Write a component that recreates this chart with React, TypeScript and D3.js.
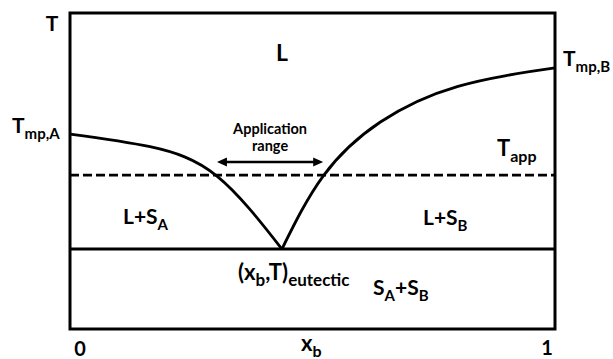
import React from "react";
import * as d3 from "d3";

// ---- data (mole fraction x_b, reduced temperature 0..1) ----
const xDomain = [0, 1];
const tDomain = [0, 1];
const tmpA = 0.617;
const tmpB = 0.826;
const tApp = 0.487;
const tEutectic = 0.253;
const xEutectic = 0.437;
const appRange = [0.303, 0.522];

const leftX = [0, 0.165, 0.303, xEutectic];
const leftT = [tmpA, 0.577, 0.484, tEutectic];
const rightX = [xEutectic, 0.522, 0.64, 0.8, 1];
const rightT = [tEutectic, 0.484, 0.655, 0.768, tmpB];

const tickLabels = ["0", "1"];

const W = 613;
const H = 359;
const FONT = "Lato, 'Open Sans', sans-serif";

function Sub({ x, y, main, sub, size, subSize, anchor = "start", rest, restSub }: any) {
  return (
    <text x={x} y={y} fontFamily={FONT} fontWeight={700} fontSize={size} textAnchor={anchor} fill="#000">
      <tspan>{main}</tspan>
      {sub ? (
        <tspan fontSize={subSize} dy={6}>
          {sub}
        </tspan>
      ) : null}
      {rest ? (
        <tspan dy={sub ? -6 : 0} fontSize={size}>
          {rest}
        </tspan>
      ) : null}
      {restSub ? (
        <tspan fontSize={subSize} dy={6}>
          {restSub}
        </tspan>
      ) : null}
    </text>
  );
}

export default function App() {
  const x = d3.scaleLinear().domain(xDomain).range([70, 555]);
  const y = d3.scaleLinear().domain(tDomain).range([329, 13]);

  const line = d3
    .line<[number, number]>()
    .x((d) => x(d[0]))
    .y((d) => y(d[1]))
    .curve(d3.curveNatural);

  const leftPts = leftX.map((v, i) => [v, leftT[i]] as [number, number]);
  const rightPts = rightX.map((v, i) => [v, rightT[i]] as [number, number]);

  const ax0 = x(appRange[0]);
  const ax1 = x(appRange[1]);
  const ay = 162;

  return (
    <div style={{ position: "absolute", left: 0, top: 0 }}>
      <svg width={W} height={H} style={{ display: "block", background: "#fff" }}>
        {/* frame */}
        <rect
          x={x(0)}
          y={y(1)}
          width={x(1) - x(0)}
          height={y(0) - y(1)}
          fill="none"
          stroke="#000"
          strokeWidth={3}
        />
        {/* eutectic line */}
        <line x1={x(0)} x2={x(1)} y1={y(tEutectic)} y2={y(tEutectic)} stroke="#000" strokeWidth={3} />
        {/* application temperature */}
        <line
          x1={x(0)}
          x2={x(1)}
          y1={y(tApp)}
          y2={y(tApp)}
          stroke="#000"
          strokeWidth={2.6}
          strokeDasharray="9 4"
        />
        {/* liquidus curves */}
        <path d={line(leftPts) || ""} fill="none" stroke="#000" strokeWidth={2.8} />
        <path d={line(rightPts) || ""} fill="none" stroke="#000" strokeWidth={2.8} />

        {/* application range arrow */}
        <line x1={ax0 + 6} x2={ax1 - 6} y1={ay} y2={ay} stroke="#000" strokeWidth={2.5} />
        <path d={`M${ax0},${ay} L${ax0 + 10},${ay - 4.5} L${ax0 + 10},${ay + 4.5} Z`} fill="#000" />
        <path d={`M${ax1},${ay} L${ax1 - 10},${ay - 4.5} L${ax1 - 10},${ay + 4.5} Z`} fill="#000" />
        <text x={(ax0 + ax1) / 2} y={134} textAnchor="middle" fontFamily={FONT} fontWeight={700} fontSize={14.5} fill="#000">
          Application
        </text>
        <text x={(ax0 + ax1) / 2} y={151} textAnchor="middle" fontFamily={FONT} fontWeight={700} fontSize={14.5} fill="#000">
          range
        </text>

        {/* axis labels */}
        <text x={52} y={31} textAnchor="middle" fontFamily={FONT} fontWeight={700} fontSize={21}>
          T
        </text>
        <Sub x={12} y={y(tmpA) - 1} main="T" sub="mp,A" size={21} subSize={15} />
        <Sub x={563} y={y(tmpB) - 2} main="T" sub="mp,B" size={21} subSize={15} />
        <Sub x={497} y={156} main="T" sub="app" size={22} subSize={16} />
        <text x={x(0) + 10} y={356} textAnchor="middle" fontFamily={FONT} fontWeight={700} fontSize={20}>
          {tickLabels[0]}
        </text>
        <text x={x(1) - 8} y={355} textAnchor="middle" fontFamily={FONT} fontWeight={700} fontSize={20}>
          {tickLabels[1]}
        </text>
        <Sub x={301} y={351} main="x" sub="b" size={22} subSize={16} />

        {/* region labels */}
        <text x={282} y={61} textAnchor="middle" fontFamily={FONT} fontWeight={700} fontSize={23}>
          L
        </text>
        <Sub x={123} y={224} main="L+S" sub="A" size={21} subSize={15} />
        <Sub x={423} y={225} main="L+S" sub="B" size={21} subSize={15} />
        <Sub x={373} y={295} main="S" sub="A" rest="+S" restSub="B" size={21} subSize={15} />
        <Sub x={238} y={280} main="(x" sub="b" rest=",T)" restSub="eutectic" size={22} subSize={17} />
      </svg>
    </div>
  );
}
